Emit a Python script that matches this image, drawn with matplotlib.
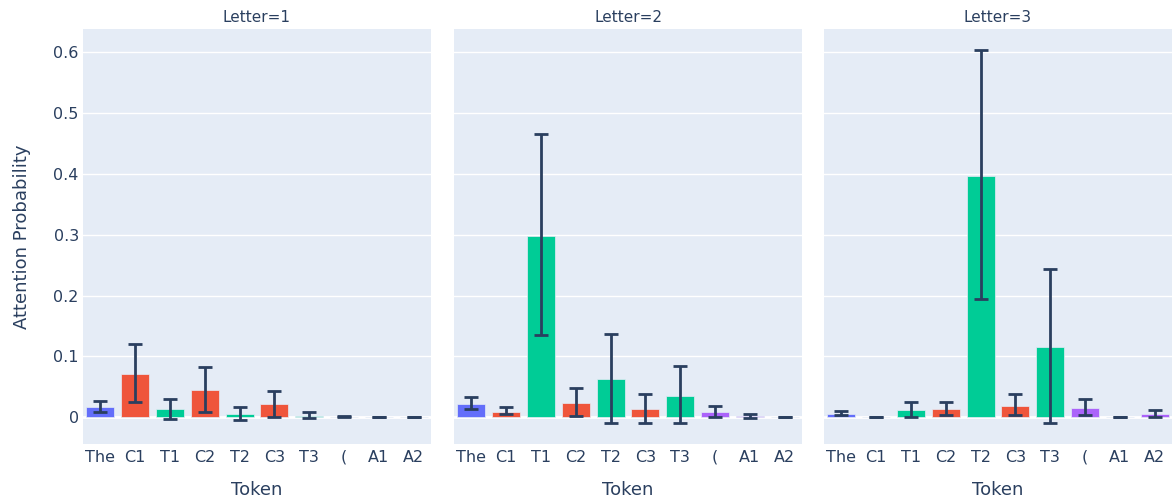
import matplotlib
matplotlib.use("Agg")
import matplotlib.pyplot as plt
import numpy as np

plt.rcParams['font.family'] = ['DejaVu Sans']

tokens = ["The", "C1", "T1", "C2", "T2", "C3", "T3", "(", "A1", "A2"]
token_colors = ["#636efa", "#EF553B", "#00cc96", "#EF553B", "#00cc96",
                "#EF553B", "#00cc96", "#ab63fa", "#ab63fa", "#ab63fa"]

# Mean attention probability per token, with lower / upper CI bounds
letter1_mean = [0.016, 0.071, 0.013, 0.044, 0.005, 0.021, 0.002, 0.001, 0.000, 0.000]
letter1_low  = [0.008, 0.025, -0.003, 0.008, -0.004, 0.001, -0.002, 0.001, 0.000, 0.000]
letter1_high = [0.027, 0.120, 0.030, 0.083, 0.016, 0.043, 0.009, 0.002, 0.000, 0.000]

letter2_mean = [0.022, 0.009, 0.298, 0.024, 0.062, 0.013, 0.035, 0.008, 0.002, 0.000]
letter2_low  = [0.013, 0.005, 0.135, 0.002, -0.010, -0.009, -0.010, 0.000, -0.001, 0.000]
letter2_high = [0.033, 0.016, 0.465, 0.048, 0.136, 0.038, 0.084, 0.019, 0.006, 0.000]

letter3_mean = [0.005, 0.000, 0.012, 0.013, 0.396, 0.019, 0.115, 0.015, 0.000, 0.005]
letter3_low  = [0.003, 0.000, 0.000, 0.004, 0.194, 0.003, -0.009, 0.004, 0.000, 0.001]
letter3_high = [0.011, 0.000, 0.025, 0.025, 0.603, 0.038, 0.243, 0.030, 0.000, 0.012]

panels = [
    ("Letter=1", letter1_mean, letter1_low, letter1_high),
    ("Letter=2", letter2_mean, letter2_low, letter2_high),
    ("Letter=3", letter3_mean, letter3_low, letter3_high),
]

BG = "#E5ECF6"
TXT = "#2a3f5f"

W, H = 1175, 497
fig = plt.figure(figsize=(W / 100, H / 100), dpi=100)
lefts = [83, 454, 824]
pw = 348
top, bottom = 29, 444

x = np.arange(len(tokens))
yticks = [0, 0.1, 0.2, 0.3, 0.4, 0.5, 0.6]

for i, (title, mean, low, high) in enumerate(panels):
    ax = fig.add_axes([lefts[i] / W, 1 - bottom / H, pw / W, (bottom - top) / H])
    ax.set_facecolor(BG)
    mean = np.array(mean)
    err = [mean - np.array(low), np.array(high) - mean]
    ax.bar(x, mean, width=0.8, color=token_colors, edgecolor=BG, linewidth=0.5, zorder=3)
    ax.errorbar(x, mean, yerr=err, fmt="none", ecolor=TXT, elinewidth=2,
                capsize=5, capthick=2, zorder=4)
    ax.set_xlim(-0.5, len(tokens) - 0.5)
    ax.set_ylim(-0.044, 0.638)
    ax.set_yticks(yticks)
    for t in yticks:
        ax.axhline(t, color="white", lw=2 if t == 0 else 1, zorder=2 if t == 0 else 1)
    ax.set_xticks(x)
    ax.set_xticklabels(tokens, fontsize=11.5, color=TXT)
    ax.tick_params(axis="both", length=0, pad=4)
    if i == 0:
        ax.set_yticklabels(["0", "0.1", "0.2", "0.3", "0.4", "0.5", "0.6"],
                           fontsize=11.5, color=TXT)
        ax.tick_params(axis="y", pad=3)
        ax.set_ylabel("Attention Probability", fontsize=13, color=TXT, labelpad=16)
    else:
        ax.set_yticklabels([])
    for s in ax.spines.values():
        s.set_visible(False)
    ax.set_xlabel("Token", fontsize=13, color=TXT, labelpad=12)
    ax.set_title(title, fontsize=11, color=TXT, pad=5)

fig.savefig("out.png", dpi=100, facecolor="white")
